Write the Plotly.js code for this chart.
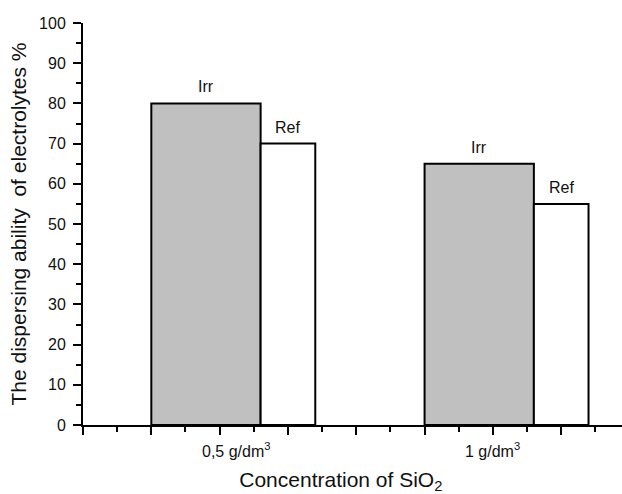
<!DOCTYPE html>
<html><head><meta charset="utf-8">
<script src="https://cdn.plot.ly/plotly-3.0.1.min.js"></script>
<style>html,body{margin:0;padding:0;background:#fff}#chart{width:622px;height:494px}</style>
</head><body><div id="chart"></div>
<script>
// ---- data ----
const concentrationLabels = ['0,5 g/dm<sup>3</sup>', '1 g/dm<sup>3</sup>'];
const irrValues = [80, 65];
const refValues = [70, 55];
const seriesNames = ['Irr', 'Ref'];
const groupStart = [1, 5];        // x value where each group's Irr bar begins
const labelX = [2.25, 6.0];       // x value of each category label
const yTickVals = [0, 10, 20, 30, 40, 50, 60, 70, 80, 90, 100];

// ---- geometry ----
const irrWidth = 1.6, refWidth = 0.8;
const irrX = groupStart.map(s => s + irrWidth / 2);
const refX = groupStart.map(s => s + irrWidth + refWidth / 2);

const FONT = 'Arial, "Liberation Sans", sans-serif';

const traces = [
  {type: 'bar', name: seriesNames[0], x: irrX, y: irrValues, width: irrWidth,
   marker: {color: '#c0c0c0', line: {color: '#000', width: 2}}, showlegend: false, hoverinfo: 'y'},
  {type: 'bar', name: seriesNames[1], x: refX, y: refValues, width: refWidth,
   marker: {color: '#ffffff', line: {color: '#000', width: 2}}, showlegend: false, hoverinfo: 'y'}
];

const annotations = [];
irrX.forEach((x, i) => annotations.push({x: x, y: irrValues[i], xref: 'x', yref: 'y', text: seriesNames[0],
  showarrow: false, yanchor: 'bottom', yshift: 6, font: {family: FONT, size: 16, color: '#111'}}));
refX.forEach((x, i) => annotations.push({x: x, y: refValues[i], xref: 'x', yref: 'y', text: seriesNames[1],
  showarrow: false, yanchor: 'bottom', yshift: 6, font: {family: FONT, size: 16, color: '#111'}}));
labelX.forEach((x, i) => annotations.push({x: x, y: 0, xref: 'x', yref: 'paper', text: concentrationLabels[i],
  showarrow: false, yanchor: 'top', yshift: -13, font: {family: FONT, size: 16, color: '#111'}}));

const layout = {
  width: 622, height: 494,
  margin: {l: 83, r: 0, t: 23, b: 69},
  paper_bgcolor: '#fff', plot_bgcolor: '#fff',
  barmode: 'overlay',
  font: {family: FONT, color: '#111'},
  xaxis: {
    range: [0, 7.89], showgrid: false, zeroline: false,
    showline: true, linecolor: '#000', linewidth: 2,
    ticks: 'outside', tick0: 0, dtick: 1, ticklen: 8, tickwidth: 2, tickcolor: '#000',
    showticklabels: false,
    minor: {ticks: 'outside', dtick: 0.5, ticklen: 5, tickwidth: 2, tickcolor: '#000'},
    title: {text: 'Concentration of SiO<sub>2</sub>&nbsp;&nbsp;&nbsp;&nbsp;', font: {family: FONT, size: 21, color: '#111'}, standoff: 38}
  },
  yaxis: {
    range: [0, 100], showgrid: false, zeroline: false,
    showline: true, linecolor: '#000', linewidth: 2,
    ticks: 'outside', tickvals: yTickVals, ticklen: 8, tickwidth: 2, tickcolor: '#000',
    ticklabelstandoff: 4,
    tickfont: {family: FONT, size: 16, color: '#111'},
    minor: {ticks: 'outside', dtick: 5, ticklen: 5, tickwidth: 2, tickcolor: '#000'},
    title: {text: 'The dispersing ability  of electrolytes %', font: {family: FONT, size: 21, color: '#111'}, standoff: 7}
  },
  annotations: annotations
};

Plotly.newPlot('chart', traces, layout, {displayModeBar: false, staticPlot: true});
</script>
</body></html>
